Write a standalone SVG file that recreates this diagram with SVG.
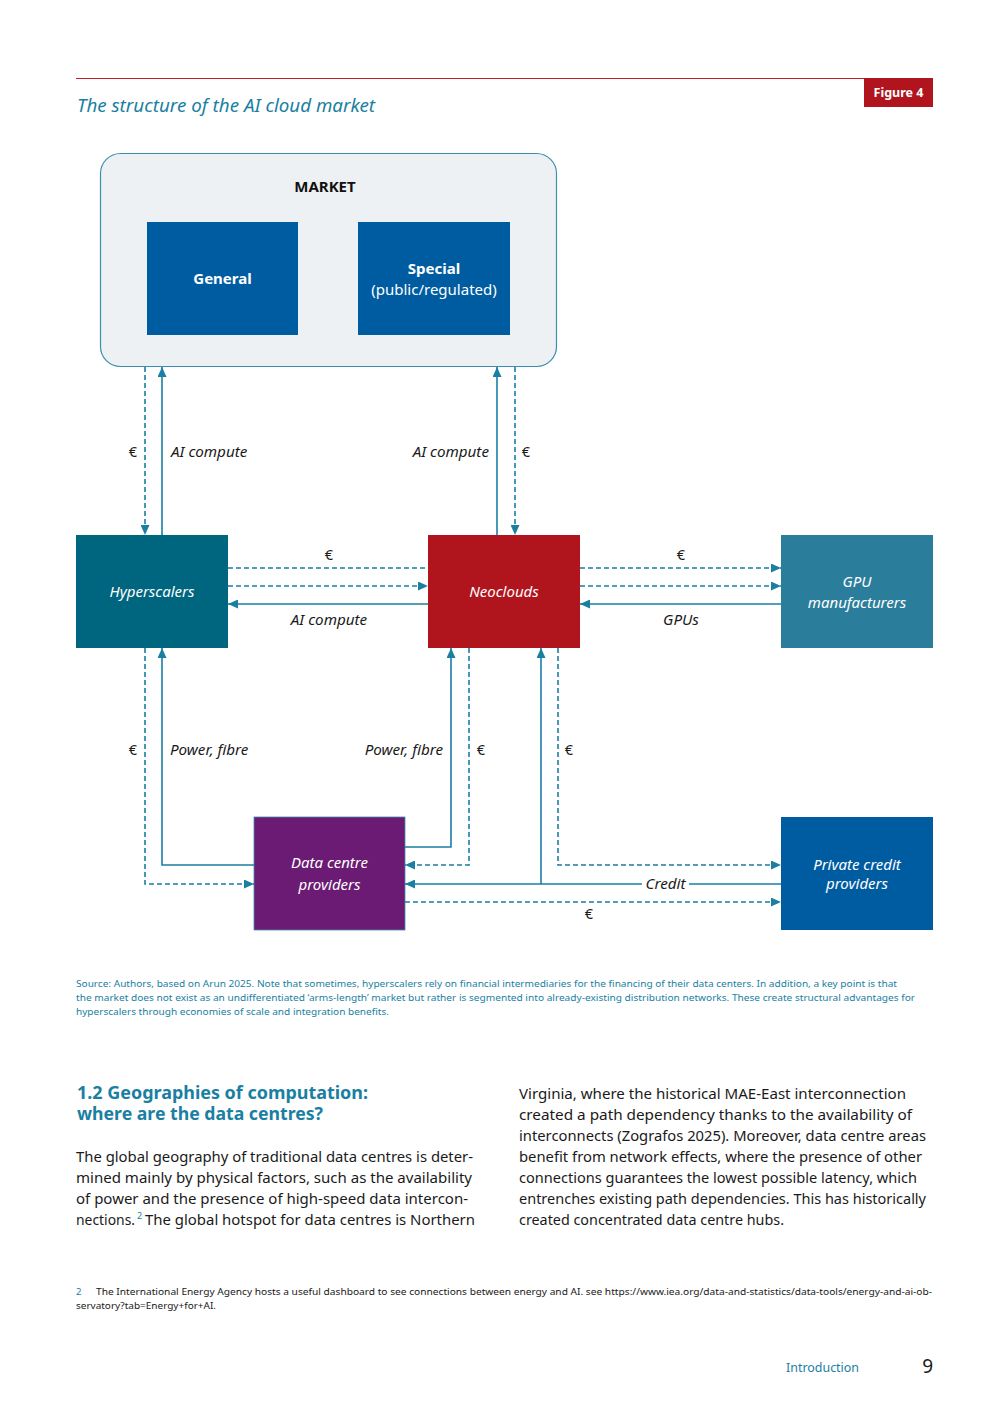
<svg xmlns="http://www.w3.org/2000/svg" width="1000" height="1414" viewBox="0 0 1000 1414">
<style>
text{font-family:"Noto Sans","Open Sans","DejaVu Sans",sans-serif}
.ln{fill:none;stroke:#1a7fa2;stroke-width:1.6}
.d{stroke-dasharray:5 3}
.lbl{font-size:15.2px;font-style:italic;fill:#1a1a1a}
.eur{font-size:14.5px;fill:#1a1a1a}
.nt{font-size:15px;font-style:italic;fill:#ffffff;text-anchor:middle}
.mt{font-size:15px;fill:#ffffff;text-anchor:middle}
.body{font-size:15px;fill:#1a1a1a}
.src{font-size:9.6px;fill:#1a7fa2}
.fn{font-size:9.6px;fill:#1a1a1a}
</style>
<defs>
<marker id="ah" viewBox="0 0 10 9" refX="10" refY="4.5" markerWidth="10" markerHeight="9" markerUnits="userSpaceOnUse" orient="auto">
<path d="M0,0 L10,4.5 L0,9 z" fill="#1a7fa2"/>
</marker>
</defs>
<rect width="1000" height="1414" fill="#ffffff"/>

<g id="header">
<line x1="76" y1="78.5" x2="933" y2="78.5" stroke="#c0202a" stroke-width="1.2"/>
<rect x="864" y="78" width="69" height="29" fill="#b0151e"/>
<text x="898.5" y="97" font-size="12.5" font-weight="bold" fill="#ffffff" text-anchor="middle">Figure 4</text>
<text x="77" y="112" font-size="18" font-style="italic" fill="#1a7fa2" textLength="298" lengthAdjust="spacingAndGlyphs">The structure of the AI cloud market</text>
</g>

<g id="market">
<rect x="100.5" y="153.5" width="456" height="213" rx="20" ry="20" fill="#edf1f4" stroke="#3d8fb0" stroke-width="1.2"/>
<text x="325" y="192" font-size="15" font-weight="bold" fill="#111111" text-anchor="middle">MARKET</text>
</g>
<g id="general">
<rect x="147" y="222" width="151" height="113" fill="#005ca1"/>
<text class="mt" x="222.5" y="284" font-weight="bold">General</text>
</g>
<g id="special">
<rect x="358" y="222" width="152" height="113" fill="#005ca1"/>
<text class="mt" x="434" y="274" font-weight="bold">Special</text>
<text class="mt" x="434" y="295">(public/regulated)</text>
</g>

<g id="hyperscalers">
<rect x="76" y="535" width="152" height="113" fill="#00657f"/>
<text class="nt" x="152" y="597">Hyperscalers</text>
</g>
<g id="neoclouds">
<rect x="428" y="535" width="152" height="113" fill="#b0151e"/>
<text class="nt" x="504" y="597">Neoclouds</text>
</g>
<g id="gpu">
<rect x="781" y="535" width="152" height="113" fill="#2a7e9c"/>
<text class="nt" x="857" y="587">GPU</text>
<text class="nt" x="857" y="608">manufacturers</text>
</g>
<g id="datacentre">
<rect x="254" y="817" width="151" height="113" fill="#6b1b73" stroke="#3d8fb0" stroke-width="0.8"/>
<text class="nt" x="329.5" y="868">Data centre</text>
<text class="nt" x="329.5" y="890">providers</text>
</g>
<g id="privatecredit">
<rect x="781" y="817" width="152" height="113" fill="#005ca1"/>
<text class="nt" x="857" y="870">Private credit</text>
<text class="nt" x="857" y="889">providers</text>
</g>

<g id="connectors">
<path class="ln d" d="M145,367 V535" marker-end="url(#ah)"/>
<path class="ln" d="M162,535 V367" marker-end="url(#ah)"/>
<path class="ln" d="M497,535 V367" marker-end="url(#ah)"/>
<path class="ln d" d="M515,367 V535" marker-end="url(#ah)"/>
<path class="ln d" d="M228,568 H428"/>
<path class="ln d" d="M228,586 H428" marker-end="url(#ah)"/>
<path class="ln" d="M428,604 H228" marker-end="url(#ah)"/>
<path class="ln d" d="M580,568 H781" marker-end="url(#ah)"/>
<path class="ln d" d="M580,586 H781" marker-end="url(#ah)"/>
<path class="ln" d="M781,604 H580" marker-end="url(#ah)"/>
<path class="ln d" d="M145,648 V884 H254" marker-end="url(#ah)"/>
<path class="ln" d="M254,865 H162 V648" marker-end="url(#ah)"/>
<path class="ln" d="M405,847 H451 V648" marker-end="url(#ah)"/>
<path class="ln d" d="M469,648 V865 H405" marker-end="url(#ah)"/>
<path class="ln" d="M781,884 H689"/>
<path class="ln" d="M642,884 H405" marker-end="url(#ah)"/>
<path class="ln" d="M541,884 V648" marker-end="url(#ah)"/>
<path class="ln d" d="M558,648 V865 H781" marker-end="url(#ah)"/>
<path class="ln d" d="M405,902 H781" marker-end="url(#ah)"/>

<text class="eur" x="133" y="457" text-anchor="middle">€</text>
<text class="lbl" x="171" y="457">AI compute</text>
<text class="lbl" x="489" y="457" text-anchor="end">AI compute</text>
<text class="eur" x="526" y="457" text-anchor="middle">€</text>
<text class="eur" x="329" y="560" text-anchor="middle">€</text>
<text class="lbl" x="329" y="625" text-anchor="middle">AI compute</text>
<text class="eur" x="681" y="560" text-anchor="middle">€</text>
<text class="lbl" x="681" y="625" text-anchor="middle">GPUs</text>
<text class="eur" x="133" y="755" text-anchor="middle">€</text>
<text class="lbl" x="170" y="755">Power, fibre</text>
<text class="lbl" x="443" y="755" text-anchor="end">Power, fibre</text>
<text class="eur" x="481" y="755" text-anchor="middle">€</text>
<text class="eur" x="569" y="755" text-anchor="middle">€</text>
<text class="lbl" x="665.5" y="889" text-anchor="middle">Credit</text>
<text class="eur" x="589" y="919" text-anchor="middle">€</text>
</g>

<g id="source">
<text class="src" x="76" y="987" textLength="821" lengthAdjust="spacingAndGlyphs">Source: Authors, based on Arun 2025. Note that sometimes, hyperscalers rely on financial intermediaries for the financing of their data centers. In addition, a key point is that</text>
<text class="src" x="76" y="1001" textLength="839" lengthAdjust="spacingAndGlyphs">the market does not exist as an undifferentiated ‘arms-length’ market but rather is segmented into already-existing distribution networks. These create structural advantages for</text>
<text class="src" x="76" y="1015" textLength="313" lengthAdjust="spacingAndGlyphs">hyperscalers through economies of scale and integration benefits.</text>
</g>

<g id="bodytext">
<text x="77" y="1099" font-size="17" font-weight="bold" fill="#1a7fa2" textLength="291" lengthAdjust="spacingAndGlyphs">1.2 Geographies of computation:</text>
<text x="77" y="1120" font-size="17" font-weight="bold" fill="#1a7fa2" textLength="246" lengthAdjust="spacingAndGlyphs">where are the data centres?</text>
<text class="body" x="76" y="1162" textLength="397" lengthAdjust="spacingAndGlyphs">The global geography of traditional data centres is deter-</text>
<text class="body" x="76" y="1183" textLength="396" lengthAdjust="spacingAndGlyphs">mined mainly by physical factors, such as the availability</text>
<text class="body" x="76" y="1204" textLength="392" lengthAdjust="spacingAndGlyphs">of power and the presence of high-speed data intercon-</text>
<text class="body" x="76" y="1225" textLength="59" lengthAdjust="spacingAndGlyphs">nections.</text>
<text x="137" y="1219" font-size="9" fill="#1a7fa2">2</text>
<text class="body" x="145" y="1225" textLength="330" lengthAdjust="spacingAndGlyphs">The global hotspot for data centres is Northern</text>
<text class="body" x="519" y="1099" textLength="387" lengthAdjust="spacingAndGlyphs">Virginia, where the historical MAE-East interconnection</text>
<text class="body" x="519" y="1120" textLength="393" lengthAdjust="spacingAndGlyphs">created a path dependency thanks to the availability of</text>
<text class="body" x="519" y="1141" textLength="407" lengthAdjust="spacingAndGlyphs">interconnects (Zografos 2025). Moreover, data centre areas</text>
<text class="body" x="519" y="1162" textLength="403" lengthAdjust="spacingAndGlyphs">benefit from network effects, where the presence of other</text>
<text class="body" x="519" y="1183" textLength="398" lengthAdjust="spacingAndGlyphs">connections guarantees the lowest possible latency, which</text>
<text class="body" x="519" y="1204" textLength="407" lengthAdjust="spacingAndGlyphs">entrenches existing path dependencies. This has historically</text>
<text class="body" x="519" y="1225" textLength="265" lengthAdjust="spacingAndGlyphs">created concentrated data centre hubs.</text>
</g>

<g id="footnote">
<text class="src" x="76" y="1295">2</text>
<text class="fn" x="96" y="1295" textLength="836" lengthAdjust="spacingAndGlyphs">The International Energy Agency hosts a useful dashboard to see connections between energy and AI. see https://www.iea.org/data-and-statistics/data-tools/energy-and-ai-ob-</text>
<text class="fn" x="76" y="1309" textLength="140" lengthAdjust="spacingAndGlyphs">servatory?tab=Energy+for+AI.</text>
</g>

<g id="footer">
<text x="786" y="1372" font-size="12.5" fill="#1a7fa2" textLength="73" lengthAdjust="spacingAndGlyphs">Introduction</text>
<text x="933" y="1373" font-size="19" fill="#1a1a1a" text-anchor="end">9</text>
</g>
</svg>
